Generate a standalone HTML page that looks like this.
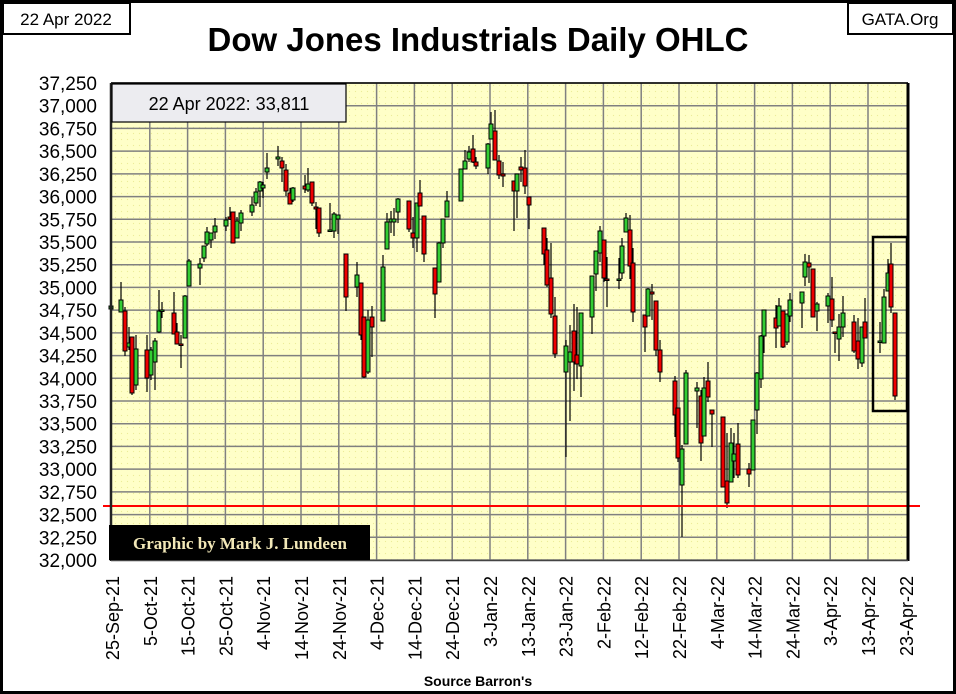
<!DOCTYPE html>
<html><head><meta charset="utf-8"><style>
body{margin:0;background:#fff}
svg{display:block;font-family:"Liberation Sans",sans-serif}
</style></head><body>
<svg id="s" width="956" height="694" xmlns="http://www.w3.org/2000/svg">
<defs><pattern id="dots" width="6" height="6" patternUnits="userSpaceOnUse"><rect width="6" height="6" fill="#ffffc8"/><circle cx="1.5" cy="1.5" r="0.6" fill="#ecec98"/></pattern></defs>
<rect x="1.5" y="1.5" width="953" height="691" fill="#fff" stroke="#000" stroke-width="3"/>
<rect x="111" y="83" width="797" height="477" fill="url(#dots)"/>
<g id="grid" stroke="#808080" stroke-width="1.5"></g>
<g id="candles"></g>
<line x1="103" y1="506" x2="920" y2="506" stroke="#ff0000" stroke-width="2"/>
<rect x="873" y="237" width="34" height="174" fill="none" stroke="#000" stroke-width="2.5"/>
<line x1="111" y1="83" x2="908" y2="83" stroke="#000" stroke-width="1.5"/>
<line x1="111" y1="83" x2="111" y2="561" stroke="#222" stroke-width="2.5"/>
<line x1="908" y1="83" x2="908" y2="561" stroke="#000" stroke-width="3"/>
<line x1="111" y1="560.5" x2="908" y2="560.5" stroke="#444" stroke-width="1.5"/>
<rect x="112" y="84" width="234" height="38" fill="#ececf0" stroke="#000" stroke-width="1.2"/>
<text x="229" y="110" font-size="18" text-anchor="middle">22 Apr 2022: 33,811</text>
<rect x="109" y="525" width="261" height="35" fill="#000"/>
<text x="240" y="549" font-size="17" font-weight="bold" text-anchor="middle" fill="#f2e8b8" font-family="Liberation Serif,serif">Graphic by Mark J. Lundeen</text>
<rect x="3" y="3" width="127" height="31" fill="#fff" stroke="#000" stroke-width="2"/>
<text x="66" y="25" font-size="17" text-anchor="middle">22 Apr 2022</text>
<rect x="848" y="3" width="105" height="31" fill="#fff" stroke="#000" stroke-width="2"/>
<text x="900" y="25" font-size="17" text-anchor="middle">GATA.Org</text>
<text x="478" y="51" font-size="33" font-weight="bold" text-anchor="middle">Dow Jones Industrials Daily OHLC</text>
<text x="478" y="686" font-size="14" font-weight="bold" text-anchor="middle">Source Barron's</text>
<g id="ylab" font-size="19" text-anchor="end"></g>
<g id="xlab" font-size="18" text-anchor="end"></g>
</svg>
<script>
var NS="http://www.w3.org/2000/svg";
function el(p,t,a,txt){var e=document.createElementNS(NS,t);for(var k in a)e.setAttribute(k,a[k]);if(txt)e.textContent=txt;document.getElementById(p).appendChild(e);}
for(var j=0;j<=21;j++){var y=83+j*477/21;el("grid","line",{x1:111,x2:908,y1:y,y2:y});
var v=37250-j*250;el("ylab","text",{x:97,y:y+7},v.toLocaleString("en-US"));}
var dates=["25-Sep-21","5-Oct-21","15-Oct-21","25-Oct-21","4-Nov-21","14-Nov-21","24-Nov-21","4-Dec-21","14-Dec-21","24-Dec-21","3-Jan-22","13-Jan-22","23-Jan-22","2-Feb-22","12-Feb-22","22-Feb-22","4-Mar-22","14-Mar-22","24-Mar-22","3-Apr-22","13-Apr-22","23-Apr-22"];
for(var i=0;i<=21;i++){var x=112+i*37.8;if(i>0&&i<21)el("grid","line",{x1:x,x2:x,y1:83,y2:560});
el("xlab","text",{x:0,y:0,transform:"translate("+(x+7)+",576) rotate(-90)"},dates[i]);}
var C=[[111,306,309,306,309,"g"],[121,300,312,282,312,"g"],[125,311,351,307,356,"r"],[129,343,347,327,350,"g"],[132,337,393,337,395,"r"],[136,349,385,335,390,"g"],[147,350,378,335,392,"r"],[151,350,375,347,380,"g"],[155,341,362,338,390,"g"],[159,311,332,290,333,"g"],[162,310,311,302,318,"g"],[174,313,334,292,334,"r"],[177,332,344,323,344,"r"],[181,344,345,335,368,"r"],[185,296,338,295,338,"g"],[189,261,286,259,286,"g"],[200,264,268,258,285,"g"],[204,246,258,246,262,"g"],[207,232,244,227,246,"g"],[211,233,240,233,248,"g"],[215,226,232,218,239,"g"],[226,220,226,217,231,"g"],[230,217,219,207,220,"r"],[233,212,243,212,243,"r"],[237,221,238,217,238,"g"],[241,213,223,210,231,"g"],[252,205,212,197,216,"g"],[256,192,203,188,206,"g"],[260,182,191,181,207,"g"],[263,185,188,182,198,"g"],[267,168,172,153,179,"g"],[278,157,159,146,166,"g"],[282,161,168,157,182,"r"],[286,170,191,164,196,"r"],[290,193,204,188,204,"r"],[293,188,200,187,202,"g"],[305,186,189,175,193,"r"],[308,184,190,168,192,"g"],[312,182,203,182,206,"r"],[316,207,209,202,229,"r"],[319,208,233,208,237,"r"],[330,230,231,203,232,"g"],[334,214,231,212,238,"g"],[338,215,219,215,234,"g"],[346,254,297,254,311,"r"],[357,275,287,262,297,"g"],[361,283,335,283,340,"r"],[364,317,377,317,378,"r"],[368,320,372,310,374,"g"],[372,317,327,306,357,"r"],[383,267,321,255,321,"g"],[387,222,249,213,249,"g"],[391,219,222,211,233,"g"],[394,219,222,208,236,"g"],[398,199,212,198,223,"g"],[409,201,229,201,232,"r"],[413,233,238,217,248,"r"],[417,203,238,203,252,"g"],[420,193,206,180,206,"r"],[424,216,254,216,262,"r"],[435,268,294,268,318,"r"],[439,243,282,242,282,"g"],[443,219,243,219,248,"g"],[447,201,217,191,217,"g"],[461,169,201,169,201,"g"],[465,161,169,150,169,"g"],[469,152,159,146,162,"g"],[473,149,162,135,163,"r"],[476,162,166,157,169,"r"],[488,144,168,143,174,"g"],[491,124,139,112,139,"g"],[495,131,160,110,160,"r"],[499,161,175,155,179,"r"],[503,174,176,162,187,"r"],[514,181,191,181,231,"r"],[517,174,191,174,218,"g"],[521,167,170,157,182,"r"],[525,168,186,150,194,"r"],[529,197,205,197,229,"r"],[544,228,254,228,265,"r"],[547,250,285,238,287,"r"],[551,278,314,243,318,"r"],[555,316,354,297,358,"r"],[566,346,372,340,457,"g"],[570,352,362,325,421,"g"],[574,331,362,304,391,"r"],[577,355,364,307,379,"r"],[581,313,366,313,397,"g"],[592,276,317,276,334,"g"],[596,251,274,251,291,"g"],[600,231,253,226,262,"g"],[604,240,278,240,282,"r"],[607,279,280,257,307,"r"],[619,279,280,258,289,"g"],[622,246,273,238,279,"g"],[626,218,232,213,232,"g"],[630,230,266,215,279,"r"],[633,263,312,248,322,"r"],[645,315,327,315,352,"r"],[648,289,316,288,316,"g"],[652,292,294,284,320,"r"],[656,301,350,301,356,"r"],[660,350,372,340,382,"r"],[675,381,415,376,437,"r"],[678,408,458,408,462,"r"],[682,449,485,445,537,"g"],[686,373,444,370,444,"g"],[697,388,391,382,428,"g"],[701,396,443,390,461,"r"],[704,388,436,377,436,"g"],[708,381,397,362,402,"r"],[712,410,414,410,447,"r"],[723,417,487,417,487,"r"],[727,481,503,433,508,"r"],[731,443,482,428,482,"g"],[734,454,461,433,478,"g"],[738,444,475,423,478,"r"],[749,469,474,463,487,"r"],[753,420,470,420,470,"g"],[757,373,410,372,434,"g"],[761,336,379,335,388,"g"],[764,310,336,310,353,"g"],[776,318,328,305,348,"r"],[779,306,326,298,326,"g"],[783,311,347,311,348,"r"],[787,314,342,314,345,"g"],[790,300,316,293,322,"g"],[802,292,303,292,328,"g"],[805,262,277,254,286,"g"],[809,263,267,255,283,"r"],[813,269,317,269,317,"r"],[817,304,311,302,331,"g"],[828,296,306,293,323,"g"],[832,299,320,277,327,"r"],[835,332,333,332,353,"r"],[839,327,339,314,361,"g"],[843,313,327,296,337,"g"],[854,322,351,315,353,"r"],[858,341,359,318,369,"r"],[862,327,363,327,367,"g"],[865,322,338,298,338,"r"],[880,341,342,322,353,"g"],[884,297,343,289,343,"g"],[888,273,291,259,291,"g"],[891,264,307,243,313,"r"],[895,313,396,313,400,"r"]];
C.forEach(function(c){el("candles","line",{x1:c[0],x2:c[0],y1:c[3],y2:c[4],stroke:"#000","stroke-width":1.2});
var h=Math.max(c[2]-c[1],1.5);el("candles","rect",{x:c[0]-2,y:c[1],width:4,height:h,fill:c[5]=="g"?"#33cc33":"#ee0000",stroke:"#000","stroke-width":1});});
</script>
</body></html>
